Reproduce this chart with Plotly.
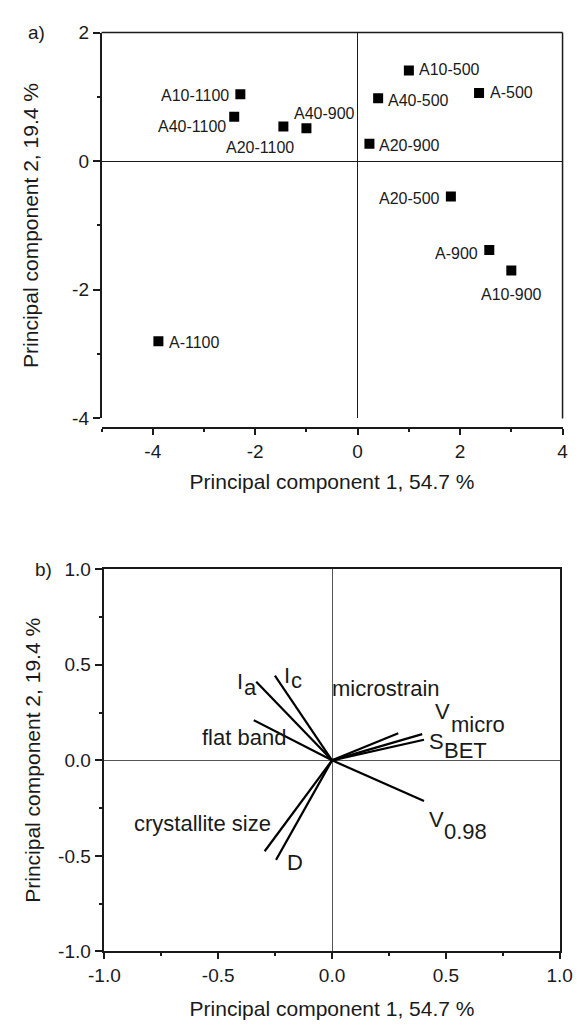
import plotly.graph_objects as go

# ---------------- data: panel a (scores) ----------------
sample_names = ["A10-1100", "A40-1100", "A20-1100", "A40-900", "A10-500", "A40-500",
                "A-500", "A20-900", "A20-500", "A-900", "A10-900", "A-1100"]
pc1_scores = [-2.29, -2.41, -1.45, -1.00, 1.00, 0.40, 2.37, 0.23, 1.82, 2.57, 3.00, -3.89]
pc2_scores = [1.04, 0.69, 0.54, 0.51, 1.41, 0.98, 1.06, 0.27, -0.55, -1.38, -1.70, -2.80]

# ---------------- data: panel b (loadings) ----------------
var_main = ["I", "I", "flat band", "microstrain", "V", "S", "V", "crystallite size", "D"]
var_sub = ["a", "c", "", "", "micro", "BET", "0.98", "", ""]
pc1_load = [-0.333, -0.251, -0.344, 0.291, 0.396, 0.404, 0.404, -0.296, -0.246]
pc2_load = [0.411, 0.444, 0.210, 0.142, 0.137, 0.108, -0.213, -0.476, -0.521]

# tick labels
a_xticks = [-4, -2, 0, 2, 4]
a_xticktext = ["-4", "-2", "0", "2", "4"]
a_yticks = [-4, -2, 0, 2]
a_yticktext = ["-4", "-2", "0", "2"]
b_ticks = [-1.0, -0.5, 0.0, 0.5, 1.0]
b_ticktext = ["-1.0", "-0.5", "0.0", "0.5", "1.0"]

x_title = "Principal component 1, 54.7 %"
y_title = "Principal component 2, 19.4 %"

# ---------------- label placement (styling) ----------------
a_label_anchor = ["right", "right", "center", "center", "left", "left",
                  "left", "left", "right", "right", "center", "left"]
a_label_dx = [-9, -6, -23, 18, 8, 8, 9, 8, -9, -9, 0, 9]
a_label_dy = [-1, -10, -21, 15, 1, -2, 0, -2, -2, -4, -24, -1]

# panel b: main-text anchor positions (data coords) and subscript positions
b_main_x = [-0.420, -0.215, -0.386, 0.236, 0.449, 0.420, 0.420, -0.570, -0.161]
b_main_y = [0.415, 0.446, 0.121, 0.377, 0.254, 0.100, -0.310, -0.330, -0.533]
b_main_anchor = ["left", "left", "center", "center", "left", "left", "left", "center", "center"]
b_sub_x = [-0.391, -0.185, None, None, 0.516, 0.488, 0.488, None, None]
b_sub_y = [0.382, 0.418, None, None, 0.187, 0.049, -0.371, None, None]

FONT = "Arial, Liberation Sans, sans-serif"
INK = "#1a1a1a"
W, H = 586, 1027

fig = go.Figure()

fig.add_trace(go.Scatter(
    x=pc1_scores, y=pc2_scores, mode="markers",
    marker=dict(symbol="square", size=10, color="black"),
    xaxis="x", yaxis="y", showlegend=False, hoverinfo="text", text=sample_names))

vx, vy = [], []
for lx, ly in zip(pc1_load, pc2_load):
    vx += [0, lx, None]
    vy += [0, ly, None]
fig.add_trace(go.Scatter(
    x=vx, y=vy, mode="lines", line=dict(color="black", width=2.2),
    xaxis="x2", yaxis="y2", showlegend=False, hoverinfo="skip"))

annotations = []
for name, x, y, anc, dx, dy in zip(sample_names, pc1_scores, pc2_scores,
                                   a_label_anchor, a_label_dx, a_label_dy):
    annotations.append(dict(x=x, y=y, xref="x", yref="y", text=name, showarrow=False,
                            xanchor=anc, yanchor="middle", xshift=dx, yshift=dy,
                            font=dict(family=FONT, size=16, color=INK)))

for main, sub, mx, my, anc, sx, sy in zip(var_main, var_sub, b_main_x, b_main_y,
                                          b_main_anchor, b_sub_x, b_sub_y):
    annotations.append(dict(x=mx, y=my, xref="x2", yref="y2", text=main, showarrow=False,
                            xanchor=anc, yanchor="middle", borderpad=0,
                            font=dict(family=FONT, size=22, color=INK)))
    if sub:
        annotations.append(dict(x=sx, y=sy, xref="x2", yref="y2", text=sub, showarrow=False,
                                xanchor="left", yanchor="middle", borderpad=0,
                                font=dict(family=FONT, size=22, color=INK)))

annotations.append(dict(x=22 / W, y=1 - 23 / H, xref="paper", yref="paper", text="a)",
                        showarrow=False, xanchor="center", yanchor="middle",
                        font=dict(family=FONT, size=19, color=INK)))
annotations.append(dict(x=29 / W, y=1 - 571 / H, xref="paper", yref="paper", text="b)",
                        showarrow=False, xanchor="center", yanchor="middle",
                        font=dict(family=FONT, size=19, color=INK)))

axis_common = dict(showgrid=False, ticks="outside", tickcolor=INK, tickwidth=1.5,
                   showline=True, linecolor=INK, linewidth=1.5,
                   tickfont=dict(family=FONT, size=19, color=INK),
                   title_font=dict(family=FONT, size=21, color=INK))

a_top, a_bot, a_axis = 1 - 23 / H, 1 - 417 / H, 1 - 427 / H
b_top, b_bot = 1 - 571 / H, 1 - 961 / H

fig.update_layout(
    width=W, height=H, margin=dict(l=0, r=0, t=0, b=0),
    paper_bgcolor="white", plot_bgcolor="white",
    annotations=annotations,
    xaxis=dict(axis_common, domain=[90 / W, 575 / W], anchor="free", position=a_axis,
               range=[-5, 4], tickvals=a_xticks, ticktext=a_xticktext, ticklen=6,
               minor=dict(tickvals=[-5, -3, -1, 1, 3], ticklen=3, ticks="outside", tickcolor=INK),
               zeroline=True, zerolinecolor=INK, zerolinewidth=1.3,
               title=dict(text=x_title, standoff=12)),
    yaxis=dict(axis_common, domain=[a_bot, a_top], anchor="x",
               range=[-4, 2], tickvals=a_yticks, ticktext=a_yticktext, ticklen=7,
               minor=dict(tickvals=[-3, -1, 1], ticklen=3, ticks="outside", tickcolor=INK),
               zeroline=True, zerolinecolor=INK, zerolinewidth=1.3,
               title=dict(text=y_title, standoff=28)),
    xaxis2=dict(axis_common, domain=[93 / W, 572 / W], anchor="y2", mirror=True,
                range=[-1, 1], tickvals=b_ticks, ticktext=b_ticktext, ticklen=6,
                minor=dict(dtick=0.25, tick0=0, ticklen=3, ticks="outside", tickcolor=INK),
                zeroline=True, zerolinecolor="#555", zerolinewidth=1,
                title=dict(text=x_title, standoff=16)),
    yaxis2=dict(axis_common, domain=[b_bot, b_top], anchor="x2", mirror=True,
                range=[-1, 1], tickvals=b_ticks, ticktext=b_ticktext, ticklen=8,
                minor=dict(dtick=0.25, tick0=0, ticklen=4, ticks="outside", tickcolor=INK),
                zeroline=True, zerolinecolor="#555", zerolinewidth=1,
                title=dict(text=y_title, standoff=12)),
    shapes=[
        dict(type="line", xref="x domain", yref="y domain", x0=0, x1=1, y0=1, y1=1,
             line=dict(color=INK, width=1.5)),
        dict(type="line", xref="x domain", yref="y domain", x0=1, x1=1, y0=0, y1=1,
             line=dict(color=INK, width=1.5)),
    ],
)

fig.write_html("out.html")
